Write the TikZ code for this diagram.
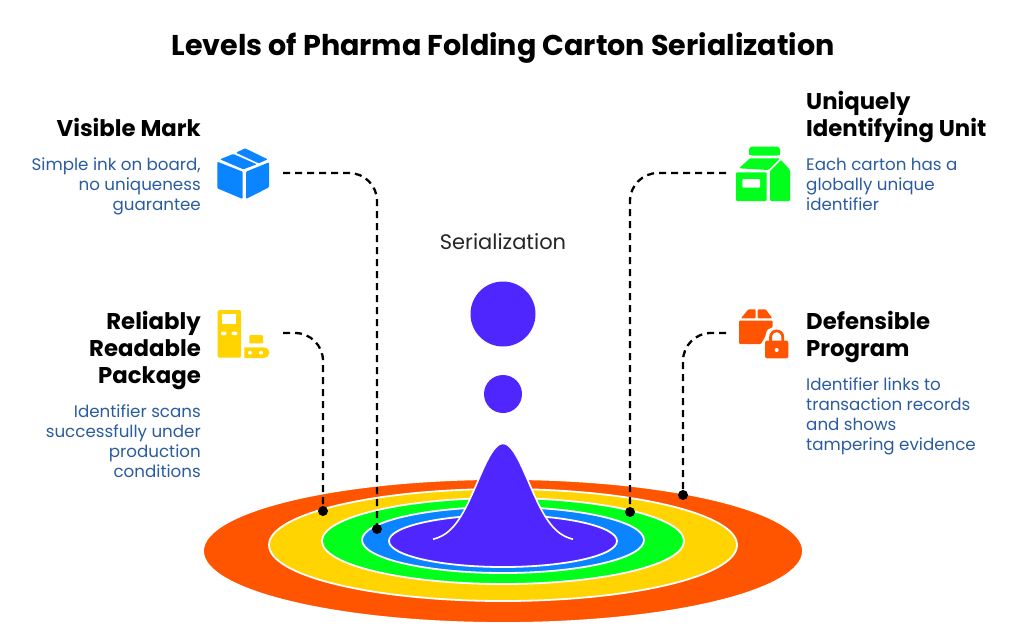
\documentclass[tikz,border=0pt]{standalone}
\usepackage{fontspec}
\setmainfont{Poppins}
\definecolor{cpurple}{HTML}{5026FF}
\definecolor{corange}{HTML}{FF5500}
\definecolor{cyellow}{HTML}{FFD400}
\definecolor{cgreen}{HTML}{00FF1A}
\definecolor{cblue}{HTML}{0A84FF}
\definecolor{ctext}{HTML}{2A5C9F}
\tikzset{
  ringa/.style={draw=white,line width=1.8pt},
  heading/.style={font=\fontsize{22.8}{27}\selectfont\bfseries,text=black,inner sep=0pt},
  desc/.style={font=\fontsize{16.7}{20}\selectfont,text=ctext,inner sep=0pt},
  conn/.style={draw=black,line width=2.3pt,dash pattern=on 7pt off 5pt,rounded corners=28pt},
  enddot/.style={circle,fill=black,minimum size=10pt,inner sep=0pt},
  ico/.style={rounded corners=1pt}
}
\begin{document}
\begin{tikzpicture}[x=1pt,y=-1pt]
\useasboundingbox (0,0) rectangle (1024,642);
\fill[white] (0,0) rectangle (1024,642);
% title
\node[font=\fontsize{28.6}{32}\selectfont\bfseries,inner sep=0pt] (title) at (503,47.5) {Levels of Pharma Folding Carton Serialization};
% rings
\path[ringa,fill=corange] (503,551) ellipse [x radius=300,y radius=72];
\path[ringa,fill=cyellow] (503,545) ellipse [x radius=234,y radius=56];
\path[ringa,fill=cgreen] (503,541) ellipse [x radius=181,y radius=43];
\path[ringa,fill=cblue] (503,540) ellipse [x radius=141,y radius=33];
\path[ringa,fill=cpurple] (503,541) ellipse [x radius=114,y radius=26];
% peak
\fill[cpurple] plot[domain=433:573,samples=80] (\x,{541.5-98*exp(-(\x-503)*(\x-503)/1308)}) -- cycle;
\draw[white,line width=1.6pt] plot[domain=433:573,samples=80] (\x,{541.5-98*exp(-(\x-503)*(\x-503)/1308)});
% drops
\node[circle,fill=cpurple,minimum size=65pt,inner sep=0pt] (big) at (503,314) {};
\node[circle,fill=cpurple,minimum size=38pt,inner sep=0pt] (small) at (503,394) {};
\node[font=\fontsize{21}{24}\selectfont,text=black!85,inner sep=0pt] (ser) at (503,242) {Serialization};
% texts left
\node[heading,anchor=east] (h1) at (201,127.5) {Visible Mark};
\node[desc,anchor=north east,align=right] (d1) at (201,157.5) {Simple ink on board,\\no uniqueness\\guarantee};
\node[heading,anchor=north east,align=right] (h2) at (201,311) {Reliably\\Readable\\Package};
\node[desc,anchor=north east,align=right] (d2) at (201,405) {Identifier scans\\successfully under\\production\\conditions};
% texts right
\node[heading,anchor=north west,align=left] (h3) at (806,91) {Uniquely\\Identifying Unit};
\node[desc,anchor=north west,align=left] (d3) at (806,157.5) {Each carton has a\\globally unique\\identifier};
\node[heading,anchor=north west,align=left] (h4) at (806,311) {Defensible\\Program};
\node[desc,anchor=north west,align=left] (d4) at (806,378) {Identifier links to\\transaction records\\and shows\\tampering evidence};
% connectors
\coordinate (c1) at (283,173);
\coordinate (c2) at (283,333);
\coordinate (c3) at (726,173);
\coordinate (c4) at (726,333);
\node[enddot] (e1) at (377,529) {};
\node[enddot] (e2) at (323,511) {};
\node[enddot] (e3) at (630,512) {};
\node[enddot] (e4) at (683,495) {};
\draw[conn] (c1) -| (e1.center);
\draw[conn] (c2) -| (e2.center);
\draw[conn] (c3) -| (e3.center);
\draw[conn] (c4) -| (e4.center);
% box icon
\fill[cblue,ico] (217.3,161.7) -- (242.7,171.7) -- (242.7,199) -- (217.3,188.3) -- cycle;
\fill[cblue,ico] (246,171.7) -- (269,162.3) -- (269,187.3) -- (246,199) -- cycle;
\fill[cblue,ico] (220,159.3) -- (233.3,154) -- (256.7,164.3) -- (243.3,169.3) -- cycle;
\fill[cblue,ico] (236,152.7) -- (245,148.3) -- (267.7,159.3) -- (258.7,163.3) -- cycle;
% yellow icon
\fill[cyellow,rounded corners=2pt] (217.7,310) rectangle (241,357.7);
\fill[white] (222.3,314) rectangle (236,324);
\fill[white,rounded corners=1pt] (221,331.7) rectangle (226.3,335);
\fill[white,rounded corners=1pt] (231.7,331.7) rectangle (237.3,335);
\fill[cyellow,rounded corners=1pt] (249.3,335) rectangle (263,343.3);
\fill[cyellow] (244.3,347.3) -- (264,347.3) arc[start angle=90,end angle=-90,radius=5.35pt] -- (244.3,358) -- cycle;
\fill[white] (250,352.7) circle (2pt) (261,352.7) circle (2pt);
% green icon
\fill[cgreen,rounded corners=3pt] (749,155.5) -- (749,146.7) -- (780,146.7) -- (780,155.5) -- cycle;
\fill[cgreen] (749,153) rectangle (780,155.3);
\fill[cgreen,ico] (739,168.3) -- (750,158.3) -- (780,158.3) -- (768.3,170) -- cycle;
\fill[cgreen,ico] (736,172.3) rectangle (766.7,201);
\fill[white,rounded corners=1pt] (742.3,179) rectangle (760,187.7);
\fill[cgreen,ico] (770,171) -- (781,160) -- (790,170) -- (790,201) -- (770,201) -- cycle;
% orange icon
\fill[corange,ico] (741,318.3) -- (748.3,309.3) -- (755.7,309.3) -- (755.7,318.3) -- cycle;
\fill[corange,ico] (757.7,309.3) -- (765.7,309.3) -- (772.3,318.3) -- (757.7,318.3) -- cycle;
\fill[corange,ico] (739,320.7) -- (772.7,320.7) -- (772.7,327) -- (767,330) -- (765,337) -- (761,344) -- (739,344) -- cycle;
\fill[corange,rounded corners=2pt] (765,340.7) rectangle (788.3,358.3);
\draw[corange,line width=2.8pt] (770.6,342) -- (770.6,337) arc[start angle=180,end angle=0,radius=6.1pt] -- (782.8,342);
\fill[white] (776.7,350) circle (2pt);
\end{tikzpicture}
\end{document}
